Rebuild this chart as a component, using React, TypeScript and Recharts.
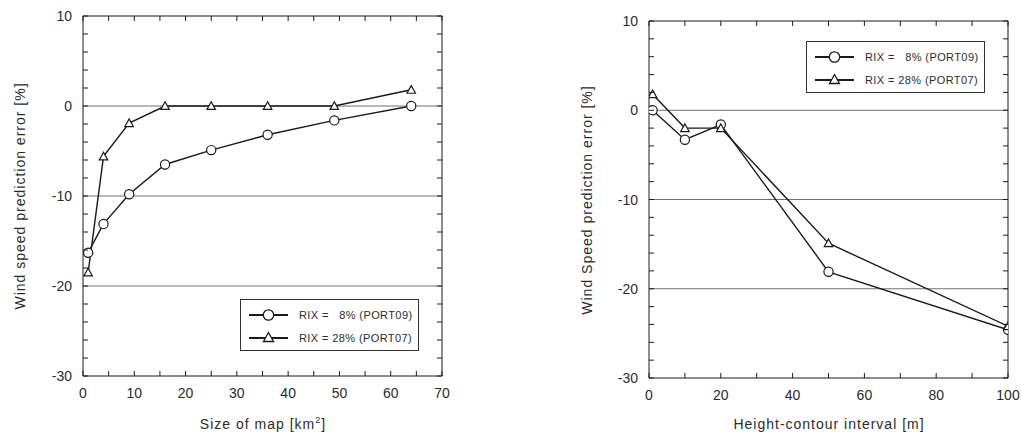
import React from 'react';
import { LineChart, Line, XAxis, YAxis, ReferenceLine } from 'recharts';

// ---------- data ----------
const mapSizes = [1, 4, 9, 16, 25, 36, 49, 64];
const mapPort09 = [-16.3, -13.1, -9.8, -6.5, -4.9, -3.2, -1.6, 0];
const mapPort07 = [-18.5, -5.6, -1.9, 0, 0, 0, 0, 1.8];

const contourIntervals = [1, 10, 20, 50, 100];
const contourPort09 = [0, -3.3, -1.6, -18.1, -24.6];
const contourPort07 = [1.8, -2, -2, -14.9, -24.2];

const yTicks = [-30, -28, -26, -24, -22, -20, -18, -16, -14, -12, -10, -8, -6, -4, -2, 0, 2, 4, 6, 8, 10];
const leftXTicks = [0, 5, 10, 15, 20, 25, 30, 35, 40, 45, 50, 55, 60, 65, 70];
const rightXTicks = [0, 10, 20, 30, 40, 50, 60, 70, 80, 90, 100];
const gridValues = [0, -10, -20];

const seriesNames = ['RIX =   8% (PORT09)', 'RIX = 28% (PORT07)'];

const FONT = '"Liberation Sans", Arial, Helvetica, sans-serif';
const TEXT = '#2b2b2b';
const INK = '#1a1a1a';

const buildRows = (xs: number[], a: number[], b: number[]) =>
  xs.map((x, i) => ({ x, p09: a[i], p07: b[i] }));

const mapData = buildRows(mapSizes, mapPort09, mapPort07);
const contourData = buildRows(contourIntervals, contourPort09, contourPort07);

const TICK_LEN = 5;

const makeXTick = (side: 'bottom' | 'top', majorStep: number) => (props: any) => {
  const { x, y, payload } = props;
  const v = payload.value;
  const dir = side === 'bottom' ? -1 : 1;
  const isMajor = v % majorStep === 0;
  return (
    <g>
      <line x1={x} y1={y} x2={x} y2={y + dir * TICK_LEN} stroke={INK} strokeWidth={1} />
      {side === 'bottom' && isMajor ? (
        <text x={x} y={y + 17} textAnchor="middle" dominantBaseline="central" fontSize={14} fill={TEXT} fontFamily={FONT}>
          {v}
        </text>
      ) : null}
    </g>
  );
};

const makeYTick = (side: 'left' | 'right') => (props: any) => {
  const { x, y, payload } = props;
  const v = payload.value;
  const dir = side === 'left' ? 1 : -1;
  const isMajor = v % 10 === 0;
  return (
    <g>
      <line x1={x} y1={y} x2={x + dir * TICK_LEN} y2={y} stroke={INK} strokeWidth={1} />
      {side === 'left' && isMajor ? (
        <text x={x - 11} y={y} textAnchor="end" dominantBaseline="central" fontSize={14} fill={TEXT} fontFamily={FONT}>
          {v}
        </text>
      ) : null}
    </g>
  );
};

const circleDot = (r: number) => (props: any) => {
  const { cx, cy, index } = props;
  return <circle key={`c-${index}`} cx={cx} cy={cy} r={r} fill="#fff" stroke={INK} strokeWidth={1.2} />;
};

const triangleDot = (s: number) => (props: any) => {
  const { cx, cy, index } = props;
  const h = s * 0.9;
  const pts = `${cx},${cy - h * 0.55} ${cx - s / 2},${cy + h * 0.45} ${cx + s / 2},${cy + h * 0.45}`;
  return <polygon key={`t-${index}`} points={pts} fill="#fff" stroke={INK} strokeWidth={1.2} />;
};

type PanelProps = {
  width: number;
  height: number;
  margin: { top: number; right: number; bottom: number; left: number };
  data: any[];
  xDomain: [number, number];
  xTicks: number[];
  xMajor: number;
};

const Panel = ({ width, height, margin, data, xDomain, xTicks, xMajor }: PanelProps) => (
  <LineChart width={width} height={height} data={data} margin={margin}>
    <XAxis
      xAxisId="bottom"
      dataKey="x"
      type="number"
      domain={xDomain}
      allowDataOverflow
      ticks={xTicks}
      interval={0}
      height={30}
      tickSize={0}
      tickMargin={0}
      tickLine={false}
      axisLine={{ stroke: INK, strokeWidth: 1 }}
      tick={makeXTick('bottom', xMajor)}
    />
    <XAxis
      xAxisId="top"
      orientation="top"
      dataKey="x"
      type="number"
      domain={xDomain}
      allowDataOverflow
      ticks={xTicks}
      interval={0}
      height={1}
      tickSize={0}
      tickMargin={0}
      tickLine={false}
      axisLine={{ stroke: INK, strokeWidth: 1 }}
      tick={makeXTick('top', xMajor)}
    />
    <YAxis
      yAxisId="left"
      type="number"
      domain={[-30, 10]}
      allowDataOverflow
      ticks={yTicks}
      interval={0}
      width={60}
      tickSize={0}
      tickMargin={0}
      tickLine={false}
      axisLine={{ stroke: INK, strokeWidth: 1 }}
      tick={makeYTick('left')}
    />
    <YAxis
      yAxisId="right"
      orientation="right"
      type="number"
      domain={[-30, 10]}
      allowDataOverflow
      ticks={yTicks}
      interval={0}
      width={1}
      tickSize={0}
      tickMargin={0}
      tickLine={false}
      axisLine={{ stroke: INK, strokeWidth: 1 }}
      tick={makeYTick('right')}
    />
    {gridValues.map((g) => (
      <ReferenceLine key={g} xAxisId="bottom" yAxisId="left" y={g} stroke="#707070" strokeWidth={1} />
    ))}
    <Line
      xAxisId="bottom"
      yAxisId="left"
      type="linear"
      dataKey="p09"
      stroke={INK}
      strokeWidth={1.4}
      dot={circleDot(4.6)}
      activeDot={false}
      isAnimationActive={false}
    />
    <Line
      xAxisId="bottom"
      yAxisId="left"
      type="linear"
      dataKey="p07"
      stroke={INK}
      strokeWidth={1.4}
      dot={triangleDot(8.5)}
      activeDot={false}
      isAnimationActive={false}
    />
  </LineChart>
);

const LegendBox = ({ left, top }: { left: number; top: number }) => (
  <div
    style={{
      position: 'absolute',
      left,
      top,
      width: 177,
      height: 50,
      border: '1px solid #333',
      background: '#fff',
      fontFamily: FONT,
      fontSize: 11,
      color: TEXT,
      letterSpacing: 0.4,
    }}
  >
    {seriesNames.map((name, i) => (
      <div key={name} style={{ position: 'absolute', left: 7, top: 6 + i * 23, height: 18, display: 'flex', alignItems: 'center' }}>
        <svg width={42} height={18} style={{ display: 'block' }}>
          <line x1={1} y1={9} x2={40} y2={9} stroke={INK} strokeWidth={2} />
          {i === 0 ? (
            <circle cx={20.5} cy={9} r={5.2} fill="#fff" stroke={INK} strokeWidth={1.3} />
          ) : (
            <polygon points="20.5,3.5 15.5,12.5 25.5,12.5" fill="#fff" stroke={INK} strokeWidth={1.3} />
          )}
        </svg>
        <span style={{ marginLeft: 9, whiteSpace: 'pre' }}>{name}</span>
      </div>
    ))}
  </div>
);

const titleStyle: React.CSSProperties = {
  position: 'absolute',
  fontFamily: FONT,
  fontSize: 14,
  color: TEXT,
  letterSpacing: 1,
  whiteSpace: 'nowrap',
};

export default function App() {
  return (
    <div style={{ position: 'absolute', left: 0, top: 0, width: 1021, height: 434, background: '#fff', overflow: 'hidden' }}>
      <div style={{ position: 'absolute', left: 0, top: 0 }}>
        <Panel
          width={480}
          height={434}
          margin={{ top: 15, right: 37, bottom: 28, left: 23 }}
          data={mapData}
          xDomain={[0, 70]}
          xTicks={leftXTicks}
          xMajor={10}
        />
      </div>
      <div style={{ position: 'absolute', left: 530, top: 0 }}>
        <Panel
          width={491}
          height={434}
          margin={{ top: 20, right: 12, bottom: 26, left: 59 }}
          data={contourData}
          xDomain={[0, 100]}
          xTicks={rightXTicks}
          xMajor={20}
        />
      </div>

      <LegendBox left={240} top={299} />
      <LegendBox left={806} top={41} />

      <div style={{ ...titleStyle, left: 20, top: 196, transform: 'translate(-50%, -50%) rotate(-90deg)' }}>
        Wind speed prediction error [%]
      </div>
      <div style={{ ...titleStyle, left: 263, top: 424, transform: 'translate(-50%, -50%)' }}>
        Size of map [km<sup style={{ fontSize: 9, verticalAlign: 'super', lineHeight: 0 }}>2</sup>]
      </div>
      <div style={{ ...titleStyle, left: 587, top: 200, transform: 'translate(-50%, -50%) rotate(-90deg)' }}>
        Wind Speed prediction error [%]
      </div>
      <div style={{ ...titleStyle, left: 829, top: 424, transform: 'translate(-50%, -50%)' }}>
        Height-contour interval [m]
      </div>
    </div>
  );
}
